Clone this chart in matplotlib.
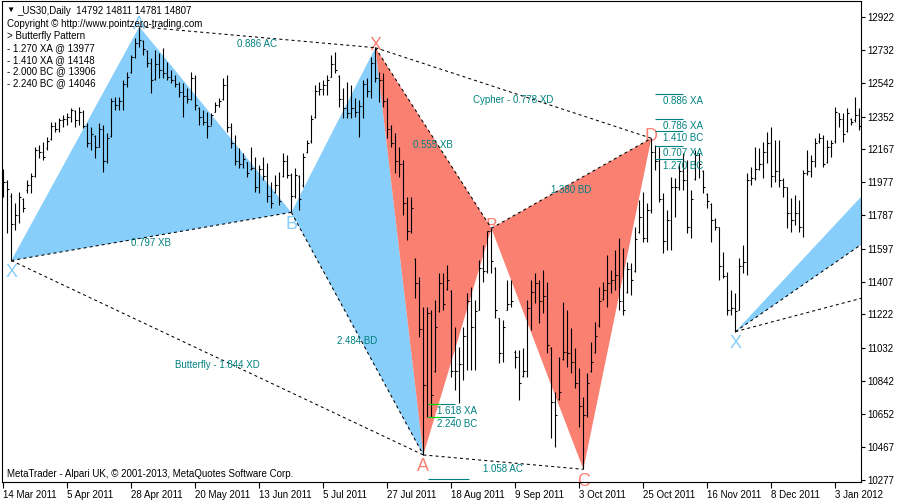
import numpy as np
import matplotlib.pyplot as plt

plt.rcParams['font.family'] = ['Liberation Sans', 'DejaVu Sans']
plt.rcParams['font.size'] = 7
plt.rcParams['lines.scale_dashes'] = False

# _US30 daily bars, 14 Mar 2011 .. 4 Jan 2012
highs = [12052, 11990, 11915, 11858, 11921, 11887, 11990, 12029, 12178, 12189,
         12207, 12235, 12321, 12321, 12344, 12361, 12372, 12400, 12389, 12406,
         12389, 12315, 12292, 12247, 12315, 12304, 12258, 12458, 12463, 12463,
         12561, 12606, 12703, 12800, 12865, 12789, 12732, 12686, 12732, 12715,
         12743, 12663, 12617, 12589, 12549, 12543, 12515, 12606, 12589, 12406,
         12389, 12378, 12372, 12435, 12458, 12572, 12589, 12315, 12247, 12172,
         12144, 12092, 12178, 12121, 12075, 12121, 12086, 11978, 12018, 12035,
         12144, 12132, 12029, 12058, 12018, 12144, 12218, 12361, 12532, 12549,
         12561, 12589, 12703, 12720, 12589, 12515, 12549, 12532, 12458, 12446,
         12561, 12572, 12692, 12745, 12606, 12600, 12458, 12304, 12258, 12178,
         12104, 11892, 11892, 11544, 11436, 11264, 11264, 11247, 11305, 11459,
         11459, 11504, 11361, 11150, 11036, 11150, 11344, 11379, 11305, 11533,
         11618, 11700, 11714, 11493, 11202, 11190, 11419, 11419, 11019, 11019,
         11030, 11305, 11419, 11459, 11419, 11476, 11407, 11036, 10779, 10979,
         11293, 11247, 11145, 11030, 10916, 10751, 10888, 11065, 11179, 11379,
         11407, 11561, 11476, 11590, 11658, 11601, 11521, 11516, 11721, 11875,
         11921, 11858, 12228, 12189, 12178, 11915, 11818, 12007, 12001, 12086,
         12144, 12104, 11932, 12161, 12144, 12047, 11915, 11858, 11773, 11721,
         11578, 11464, 11361, 11344, 11544, 11618, 12029, 12064, 12178, 12172,
         12207, 12264, 12292, 12218, 12218, 12001, 11950, 11887, 11904, 11875,
         12047, 12161, 12132, 12229, 12258, 12247, 12218, 12218, 12406, 12372,
         12372, 12400, 12344, 12463, 12400]
lows = [11892, 11687, 11530, 11704, 11744, 11807, 11915, 11915, 12007, 12115,
        12104, 12161, 12218, 12264, 12264, 12292, 12304, 12321, 12292, 12304,
        12287, 12178, 12161, 12115, 12178, 12035, 12086, 12235, 12389, 12389,
        12389, 12521, 12600, 12686, 12749, 12703, 12635, 12486, 12561, 12572,
        12572, 12561, 12543, 12521, 12463, 12349, 12429, 12446, 12389, 12304,
        12304, 12229, 12304, 12378, 12406, 12446, 12264, 12172, 12075, 12058,
        12058, 12007, 12047, 11921, 11915, 11990, 11864, 11830, 11915, 11847,
        12007, 12001, 11805, 11887, 11818, 11950, 12144, 12201, 12344, 12475,
        12475, 12475, 12578, 12600, 12406, 12344, 12344, 12344, 12349, 12235,
        12344, 12463, 12458, 12549, 12435, 12406, 12229, 12178, 12029, 12007,
        11790, 11647, 11687, 11316, 11093, 10420, 10637, 10637, 10894, 11236,
        11247, 11361, 10865, 10791, 10716, 10848, 10905, 10905, 10905, 11247,
        11407, 11459, 11459, 11202, 10945, 10951, 11247, 11264, 10916, 10734,
        10865, 10865, 11133, 11287, 11173, 11230, 11002, 10517, 10465, 10734,
        10962, 10922, 10888, 10802, 10579, 10338, 10637, 10894, 11002, 11150,
        11305, 11264, 11344, 11361, 11247, 11219, 11344, 11333, 11464, 11687,
        11636, 11636, 11801, 12047, 11864, 11573, 11590, 11590, 11778, 11932,
        11932, 11687, 11658, 11990, 12001, 11915, 11830, 11636, 11704, 11419,
        11430, 11219, 11219, 11124, 11247, 11459, 11447, 11961, 11990, 12047,
        12001, 12086, 11950, 11978, 11950, 11892, 11715, 11693, 11733, 11693,
        11664, 12018, 12007, 12064, 12201, 12064, 12086, 12121, 12201, 12292,
        12207, 12264, 12304, 12321, 12275]
opens = [12000, 11978, 11900, 11740, 11790, 11880, 11930, 11960, 12010, 12160,
         12150, 12170, 12225, 12300, 12280, 12330, 12340, 12350, 12385, 12330,
         12380, 12300, 12200, 12240, 12180, 12280, 12100, 12240, 12440, 12420,
         12440, 12540, 12605, 12690, 12770, 12785, 12725, 12660, 12565, 12650,
         12620, 12600, 12580, 12560, 12540, 12490, 12470, 12450, 12570, 12400,
         12350, 12320, 12300, 12380, 12420, 12450, 12530, 12290, 12200, 12100,
         12080, 12090, 12050, 12060, 11950, 12050, 12010, 11900, 11920, 11960,
         12010, 12100, 12020, 11900, 12015, 11960, 12150, 12210, 12350, 12500,
         12510, 12530, 12580, 12650, 12585, 12450, 12400, 12370, 12400, 12380,
         12410, 12540, 12500, 12660, 12570, 12560, 12440, 12280, 12200, 12100,
         12080, 11860, 11700, 11540, 11400, 11140, 10820, 11230, 10900, 11240,
         11400, 11370, 11355, 10900, 10900, 10940, 11100, 11300, 11150, 11250,
         11490, 11470, 11700, 11490, 11200, 11000, 11250, 11280, 11010, 10980,
         10870, 10900, 11260, 11350, 11400, 11300, 11330, 11030, 10720, 10740,
         10970, 11010, 11000, 10950, 10830, 10700, 10650, 10900, 11010, 11160,
         11310, 11360, 11400, 11420, 11450, 11300, 11350, 11480, 11470, 11690,
         11780, 11660, 11820, 12150, 12100, 11880, 11640, 11760, 11950, 11950,
         12040, 11990, 11720, 11995, 12130, 12040, 11910, 11850, 11760, 11720,
         11500, 11440, 11250, 11260, 11250, 11500, 11520, 11990, 12000, 12050,
         12080, 12150, 12200, 12010, 12040, 11990, 11950, 11800, 11760, 11800,
         11720, 12030, 12040, 12100, 12210, 12230, 12090, 12180, 12210, 12370,
         12340, 12270, 12340, 12330, 12360]
closes = [11978, 11940, 11740, 11790, 11890, 11830, 11960, 12010, 12160, 12150,
          12120, 12210, 12300, 12280, 12330, 12340, 12350, 12390, 12330, 12380,
          12300, 12200, 12250, 12180, 12280, 12100, 12230, 12440, 12420, 12440,
          12540, 12580, 12690, 12770, 12790, 12740, 12660, 12560, 12650, 12620,
          12600, 12580, 12560, 12540, 12490, 12470, 12450, 12570, 12420, 12350,
          12320, 12300, 12360, 12420, 12440, 12530, 12290, 12200, 12100, 12080,
          12110, 12030, 12060, 11950, 12050, 12010, 11900, 11860, 11960, 11870,
          12100, 12020, 11900, 12020, 11880, 12120, 12200, 12340, 12500, 12510,
          12530, 12560, 12650, 12620, 12450, 12400, 12370, 12400, 12380, 12410,
          12540, 12500, 12660, 12570, 12560, 12440, 12280, 12200, 12100, 12080,
          11860, 11700, 11830, 11400, 11140, 10820, 11230, 10760, 11150, 11400,
          11280, 11420, 10900, 10900, 10940, 11100, 11300, 11150, 11240, 11490,
          11470, 11700, 11530, 11250, 11000, 11150, 11280, 11300, 10980, 10830,
          10900, 11260, 11350, 11400, 11300, 11330, 11050, 10720, 10650, 10780,
          11010, 11000, 10950, 10830, 10700, 10650, 10830, 10950, 11100, 11300,
          11360, 11400, 11420, 11450, 11300, 11250, 11480, 11420, 11650, 11780,
          11660, 11820, 12150, 12100, 11880, 11640, 11760, 11950, 11950, 12040,
          11990, 11720, 11880, 12130, 12080, 11950, 11870, 11760, 11720, 11500,
          11440, 11250, 11260, 11240, 11500, 11520, 11990, 12000, 12050, 12080,
          12150, 12200, 12010, 12040, 11990, 11950, 11800, 11760, 11800, 11720,
          12030, 12040, 12100, 12200, 12230, 12080, 12180, 12200, 12380, 12340,
          12250, 12370, 12320, 12360, 12300]

date_labels = ['14 Mar 2011', '5 Apr 2011', '28 Apr 2011', '20 May 2011', '13 Jun 2011',
               '5 Jul 2011', '27 Jul 2011', '18 Aug 2011', '9 Sep 2011', '3 Oct 2011',
               '25 Oct 2011', '16 Nov 2011', '8 Dec 2011', '3 Jan 2012']
price_ticks = [12922, 12732, 12542, 12352, 12167, 11977, 11787, 11597, 11407,
               11222, 11032, 10842, 10652, 10467, 10277]

# harmonic patterns: X, A, B, C, D (bar index, price)
bfly_bar = [2, 34, 72, 93, 105]
bfly_px = [11530, 12865, 11805, 12745, 10420]
bfly_legs = ['0.797 XB', '0.886 AC', '2.484 BD', 'Butterfly - 1.844 XD']
cyph_bar = [93, 105, 122, 145, 162]
cyph_px = [12745, 10420, 11714, 10338, 12228]
cyph_legs = ['0.555 XB', '1.058 AC', '1.380 BD', 'Cypher - 0.778 XD']
new_bar = [183, 230, 250, 280]
new_px = [11124, 12276, 12183, 11711]

# projection levels
d_levels = [12479, 12336, 12269, 12182, 12111]
d_names = ['0.886 XA', '0.786 XA', '1.410 BC', '0.707 XA', '1.270 BC']
a_levels = [10709, 10635]
a_names = ['1.618 XA', '2.240 BC']
info = ['Copyright \u00a9 http://www.pointzero-trading.com', '> Butterfly Pattern',
        '- 1.270 XA @ 13977', '- 1.410 XA @ 14148', '- 2.000 BC @ 13906',
        '- 2.240 BC @ 14046']

BLUE = '#87CEFA'
RED = '#FA8072'
TEAL = '#008080'

fig = plt.figure(figsize=(9, 5), dpi=100)
ax = fig.add_axes([2 / 900, 18 / 500, 859 / 900, 481 / 500])
ax.set_xlim(-0.325, 214.4)
ax.set_ylim(10265.5, 13011.6)

x = np.arange(len(highs))
ax.vlines(x, lows, highs, color='black', lw=0.8, zorder=3)
ax.hlines(opens, x - 0.35, x, color='black', lw=0.8, zorder=3)
ax.hlines(closes, x, x + 0.35, color='black', lw=0.8, zorder=3)


def dashed(ax, b, p, i, j):
    ax.plot([b[i], b[j]], [p[i], p[j]], color='black', lw=0.75,
            dashes=(2.2, 2.2), zorder=4)


def draw_pattern(ax, b, p, color, legs, letters):
    ax.fill(b[0:3], p[0:3], color=color, lw=0, zorder=1)
    ax.fill(b[2:5], p[2:5], color=color, lw=0, zorder=1)
    for (i, j), txt in zip([(0, 2), (1, 3), (2, 4), (0, 4)], legs):
        dashed(ax, b, p, i, j)
        ax.annotate(txt, xy=((b[i] + b[j]) / 2, (p[i] + p[j]) / 2), xytext=(0, -7),
                    textcoords='offset pixels', ha='center', va='center',
                    color=TEAL, fontsize=7, zorder=6)
    for k, ch in enumerate(letters):
        nb = p[k + 1] if k + 1 < len(p) else p[k - 1]
        dy = 2 if p[k] > nb else -12
        ax.annotate(ch, xy=(b[k], p[k]), xytext=(0, dy), textcoords='offset pixels',
                    ha='center', va='center', color=color, fontsize=13, zorder=0.5)


draw_pattern(ax, bfly_bar, bfly_px, BLUE, bfly_legs, 'XAB')
draw_pattern(ax, cyph_bar, cyph_px, RED, cyph_legs, 'XABCD')

# forming pattern on the right
ax.fill(new_bar[0:3], new_px[0:3], color=BLUE, lw=0, zorder=1)
dashed(ax, new_bar, new_px, 0, 2)
dashed(ax, new_bar, new_px, 0, 3)
ax.annotate('X', xy=(new_bar[0], new_px[0]), xytext=(0, -12), textcoords='offset pixels',
            ha='center', va='center', color=BLUE, fontsize=13, zorder=0.5)

for lv, nm in zip(d_levels, d_names):
    ax.hlines(lv, 162.9, 169.9, color=TEAL, lw=0.8, zorder=5)
    ax.annotate(nm, xy=(164.9, lv), xytext=(0, -2), textcoords='offset pixels',
                ha='left', va='top', color=TEAL, fontsize=7, zorder=6)
for lv, nm in zip(a_levels, a_names):
    ax.hlines(lv, 106.2, 112.9, color=TEAL, lw=0.8, zorder=5)
    ax.hlines(lv, 106.2, 109.2, color='#00dd00', lw=0.8, zorder=5)
    ax.annotate(nm, xy=(108.4, lv), xytext=(0, -2), textcoords='offset pixels',
                ha='left', va='top', color=TEAL, fontsize=7, zorder=6)
ax.hlines(10283, 106.2, 116.5, color=TEAL, lw=0.8, zorder=5)

ax.set_xticks(np.arange(len(date_labels)) * 16)
ax.set_xticklabels(date_labels, ha='left')
ax.set_yticks(price_ticks)
ax.set_yticklabels([str(v) for v in price_ticks])
ax.yaxis.tick_right()
ax.tick_params(axis='x', length=4, width=0.8, pad=1.5, labelsize=7)
ax.tick_params(axis='y', length=3, width=0.8, pad=1.5, labelsize=7)
for s in ax.spines.values():
    s.set_linewidth(0.8)

fig.text(6 / 900, 1 - 10 / 500, '\u25bc', fontsize=6, va='center', ha='left')
fig.text(17 / 900, 1 - 11 / 500, '_US30,Daily  14792 14811 14781 14807',
         fontsize=7, va='center', ha='left')
for k, line in enumerate(info):
    fig.text(7 / 900, 1 - (24 + 11.9 * k) / 500, line, fontsize=7, va='center', ha='left')
fig.text(7 / 900, 1 - 474 / 500,
         'MetaTrader - Alpari UK, \u00a9 2001-2013, MetaQuotes Software Corp.',
         fontsize=7, va='center', ha='left')

fig.savefig('out.png', dpi=100)
